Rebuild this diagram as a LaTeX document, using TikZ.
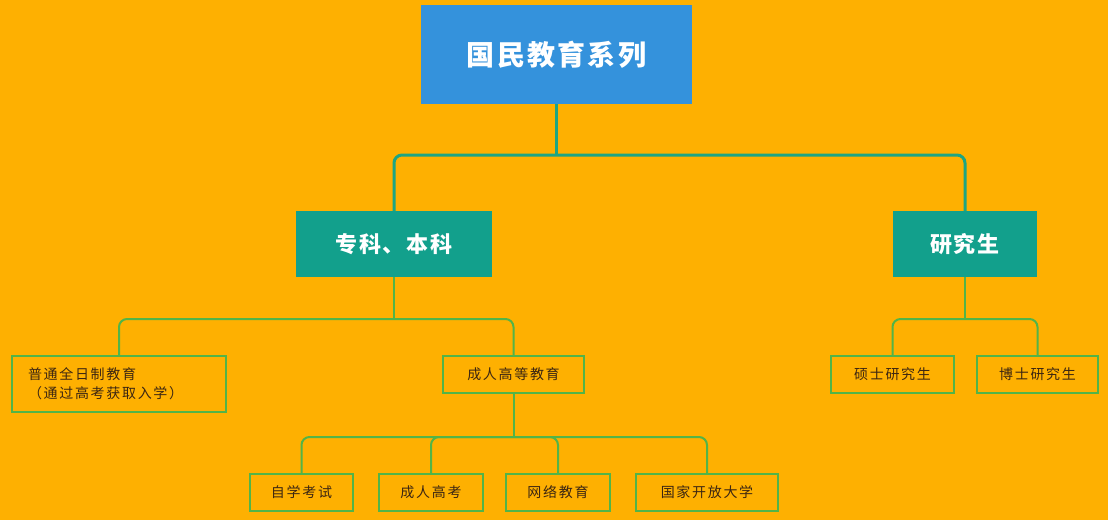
\documentclass[tikz,border=0pt]{standalone}
\usepackage{fontspec}
\newfontfamily\cjk{Noto Sans CJK SC}
\newfontfamily\cjkb{Noto Sans CJK SC}[LetterSpace=8]
\newfontfamily\cjks{Noto Sans CJK SC}[LetterSpace=12]
\definecolor{bgor}{RGB}{254,176,1}
\definecolor{topblue}{RGB}{52,146,220}
\definecolor{tealbox}{RGB}{18,160,140}
\definecolor{tealline}{RGB}{30,165,130}
\definecolor{grn}{RGB}{82,180,72}
\definecolor{darktxt}{RGB}{60,38,18}
\tikzset{
  topbox/.style={fill=topblue, draw=none, inner sep=0pt, minimum width=271pt, minimum height=99pt,
    text=white, font=\cjkb\bfseries\fontsize{28}{32}\selectfont},
  lvtwo/.style={fill=tealbox, draw=none, inner sep=0pt, minimum height=66pt,
    text=white, font=\cjkb\bfseries\fontsize{22}{26}\selectfont},
  leaf/.style={fill=bgor, draw=grn, line width=2pt, inner sep=0pt, minimum height=37pt,
    text=darktxt, font=\cjks\fontsize{14}{19}\selectfont},
  topconn/.style={draw=tealline, line width=3pt, rounded corners=8pt},
  lowconn/.style={draw=grn, line width=2pt, rounded corners=8pt}
}
\begin{document}
\begin{tikzpicture}[x=1pt,y=-1pt]
\fill[bgor] (0,0) rectangle (1108,520);
\useasboundingbox (0,0) rectangle (1108,520);

% junction coordinates
\coordinate (j1) at (556.5,155);
\coordinate (j2l) at (394,319);
\coordinate (j2r) at (965,319);
\coordinate (j3) at (513.5,437);

\node[topbox] (top) at (556.5,54.5) {国民教育系列};
\node[lvtwo, minimum width=196pt] (zb) at (394,244) {专科、本科};
\node[lvtwo, minimum width=144pt] (yjs) at (965,244) {研究生};

\draw[topconn] (top.south) -- (j1);
\draw[topconn] (zb.north) |- (j1) -| (yjs.north);

\node[leaf, minimum width=214pt, minimum height=56pt, text width=182pt, align=left] (pt) at (119,384)
  {普通全日制教育\\（通过高考获取入学）};
\node[leaf, minimum width=141pt] (cr) at (513.5,374.5) {成人高等教育};
\node[leaf, minimum width=123pt] (ss) at (892.5,374.5) {硕士研究生};
\node[leaf, minimum width=121pt] (bs) at (1037.5,374.5) {博士研究生};

\draw[lowconn] (zb.south) -- (j2l);
\draw[lowconn] (pt.north) |- (j2l) -| (cr.north);
\draw[lowconn] (yjs.south) -- (j2r);
\draw[lowconn] (ss.north) |- (j2r) -| (bs.north);

\node[leaf, minimum width=103pt] (zx) at (301.5,492.5) {自学考试};
\node[leaf, minimum width=104pt] (ck) at (431,492.5) {成人高考};
\node[leaf, minimum width=104pt] (wl) at (558,492.5) {网络教育};
\node[leaf, minimum width=142pt] (gj) at (707,492.5) {国家开放大学};

\draw[lowconn] (cr.south) -- (j3);
\draw[lowconn] (zx.north) |- (j3) -| (gj.north);
\draw[lowconn] (ck.north) |- (j3);
\draw[lowconn] (wl.north) |- (j3);
\end{tikzpicture}
\end{document}
